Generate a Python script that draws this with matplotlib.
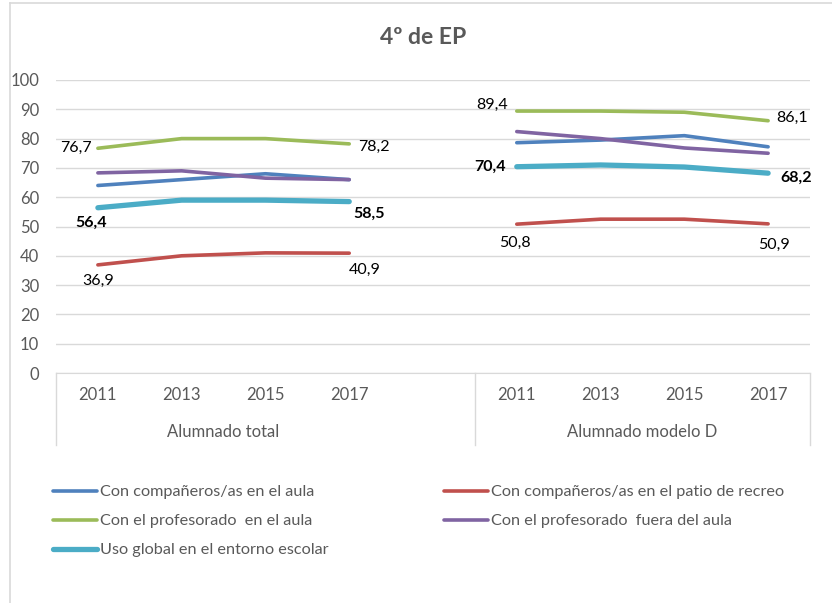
import numpy as np
import matplotlib.pyplot as plt
from matplotlib.lines import Line2D
import matplotlib.transforms as mtransforms

plt.rcParams['font.family'] = ['Lato', 'DejaVu Sans']

years = ['2011', '2013', '2015', '2017']
groups = ['Alumnado total', 'Alumnado modelo D']

# valores por grupo: (total, modelo D)
aula_comp = ([64.0, 66.0, 68.0, 66.0], [78.6, 79.5, 81.0, 77.2])
patio = ([36.9, 40.0, 41.0, 40.9], [50.8, 52.5, 52.5, 50.9])
prof_aula = ([76.7, 80.0, 80.0, 78.2], [89.4, 89.4, 89.0, 86.1])
prof_fuera = ([68.3, 69.0, 66.5, 66.0], [82.4, 80.0, 76.8, 75.0])
global_uso = ([56.4, 59.0, 59.0, 58.5], [70.4, 71.0, 70.3, 68.2])

series = [
    ('Con compañeros/as en el aula', aula_comp, '#4F81BD', 2.6),
    ('Con compañeros/as en el patio de recreo', patio, '#C0504D', 2.6),
    ('Con el profesorado  en el aula', prof_aula, '#9BBB59', 2.6),
    ('Con el profesorado  fuera del aula', prof_fuera, '#8064A2', 2.6),
    ('Uso global en el entorno escolar', global_uso, '#4BACC6', 3.8),
]

# posiciones: 4 años, hueco vacío, 4 años
x_total = np.array([0, 1, 2, 3])
x_d = np.array([5, 6, 7, 8])

W, H = 832, 603
fig = plt.figure(figsize=(W / 100, H / 100), dpi=100)
ax = fig.add_axes([56 / W, 1 - 373 / H, (810 - 56) / W, (373 - 80) / H])

gray = '#595959'
gridc = '#d9d9d9'

handles = []
for name, (tot, mod), col, lw in series:
    l, = ax.plot(x_total, tot, color=col, lw=lw, solid_capstyle='round', zorder=3)
    ax.plot(x_d, mod, color=col, lw=lw, solid_capstyle='round', zorder=3)
    handles.append(l)

ax.set_xlim(-0.5, 8.5)
ax.set_ylim(0, 100)
ax.set_yticks(np.arange(0, 101, 10))
ax.grid(axis='y', color=gridc, lw=1)
ax.set_axisbelow(True)
for s in ['left', 'right', 'top']:
    ax.spines[s].set_visible(False)
ax.spines['bottom'].set_color(gridc)
ax.tick_params(axis='y', length=0, pad=12, labelsize=12, labelcolor=gray)
ax.set_xticks(list(x_total) + list(x_d))
ax.set_xticklabels(years + years)
ax.tick_params(axis='x', length=0, pad=10, labelsize=12, labelcolor=gray)

# etiquetas de grupo y separadores
trans = mtransforms.blended_transform_factory(ax.transData, ax.transAxes)
ax.text(1.5, -0.2, groups[0], transform=trans, ha='center', va='center',
        fontsize=12, color=gray)
ax.text(6.5, -0.2, groups[1], transform=trans, ha='center', va='center',
        fontsize=12, color=gray)
for xd in [-0.5, 4.5, 8.5]:
    ax.plot([xd, xd], [0, -0.246], transform=trans, color=gridc, lw=1,
            clip_on=False)


def etiqueta(x, y, dx, dy, ha='center', bold=False):
    # desplazamientos en píxeles
    ax.annotate(f'{y:.1f}'.replace('.', ','), (x, y),
                xytext=(dx * 0.72, dy * 0.72), textcoords='offset points',
                ha=ha, va='center', fontsize=11.5, color='black',
                fontweight='bold' if bold else 'normal')


etiqueta(0, prof_aula[0][0], -6, 0, ha='right')
etiqueta(3, prof_aula[0][3], 9, -3, ha='left')
etiqueta(0, global_uso[0][0], -7, -15, bold=True)
etiqueta(3, global_uso[0][3], 20, -12, bold=True)
etiqueta(0, patio[0][0], 0, -16)
etiqueta(3, patio[0][3], 16, -17)
etiqueta(5, prof_aula[1][0], -9, 6, ha='right')
etiqueta(8, prof_aula[1][3], 8, 3, ha='left')
etiqueta(5, global_uso[1][0], -11, 0, ha='right', bold=True)
etiqueta(8, global_uso[1][3], 12, -5, ha='left', bold=True)
etiqueta(5, patio[1][0], -2, -19)
etiqueta(8, patio[1][3], 6, -21)

fig.text(0.508, 1 - 38 / H, '4º de EP', ha='center', va='center',
         fontsize=16.5, fontweight='bold', color=gray)

leg_kw = dict(loc='upper left', frameon=False, fontsize=11.7, handlelength=2.7,
              handletextpad=0.2, labelspacing=0.9, borderpad=0,
              borderaxespad=0, labelcolor=gray)
fig.legend([handles[0], handles[2], handles[4]],
           [series[0][0], series[2][0], series[4][0]],
           bbox_to_anchor=(53 / W, 1 - 485 / H), **leg_kw)
fig.legend([handles[1], handles[3]], [series[1][0], series[3][0]],
           bbox_to_anchor=(444 / W, 1 - 485 / H), **leg_kw)

# borde del área del gráfico
fig.add_artist(Line2D([10 / W, 10 / W], [0, 1 - 3 / H], color=gridc, lw=1.2))
fig.add_artist(Line2D([10 / W, 1], [1 - 3 / H, 1 - 3 / H], color=gridc, lw=1.2))

fig.savefig('out.png', dpi=100)
